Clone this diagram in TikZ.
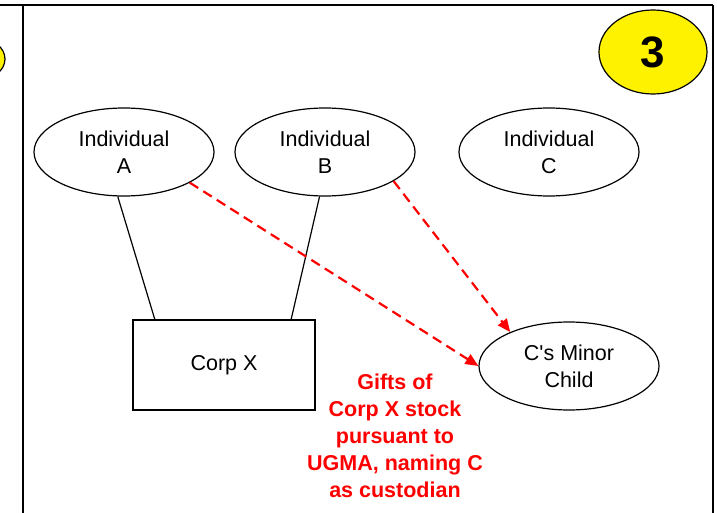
\documentclass[tikz,border=0pt]{standalone}
\usepackage{fontspec}
\setmainfont{Liberation Sans}[Ligatures=TeXOff]
\usetikzlibrary{shapes.geometric,arrows.meta}
\begin{document}
\begin{tikzpicture}[x=1pt,y=-1pt,
  ent/.style={draw,ellipse,line width=1.2pt,minimum width=180pt,minimum height=88pt,inner sep=0pt,align=center,font=\fontsize{21.5}{27}\selectfont},
  frame/.style={line width=2pt},
  gift/.style={draw=red,line width=2.2pt,dash pattern=on 10pt off 6pt,-{Triangle[length=13pt,width=11pt]}},
  own/.style={line width=1.2pt}]
\useasboundingbox (0,0) rectangle (717,513);
\draw[frame] (0,5) -- (713,5);
\draw[frame] (23,5) -- (23,513);
\draw[frame] (713,5) -- (713,513);
\node[draw,ellipse,fill=yellow,line width=1.2pt,minimum width=54pt,minimum height=42pt] (prev) at (-22,59) {};
\node[draw,ellipse,fill=yellow,line width=1.2pt,minimum width=108pt,minimum height=84pt,font=\bfseries\fontsize{44}{44}\selectfont] (num) at (653,52) {3};
\node[ent] (A) at (124,152) {Individual\\A};
\node[ent] (B) at (325,152) {Individual\\B};
\node[ent] (C) at (549,152) {Individual\\C};
\node[draw,line width=1.2pt,minimum width=182pt,minimum height=90pt,font=\fontsize{21.5}{27}\selectfont] (X) at (224,365) {Corp X};
\node[ent] (M) at (569,366) {C's Minor\\Child};
\draw[own] (A.262) -- (155,320);
\draw[own] (B.263) -- (291,320);
\draw[gift] (A.335) -- (M.west);
\draw[gift] (B.337) -- (M.150);
\node[text=red,align=center,font=\bfseries\fontsize{21.5}{27}\selectfont] (txt) at (395,436) {Gifts of\\Corp X stock\\pursuant to\\UGMA, naming C\\as custodian};
\end{tikzpicture}
\end{document}
